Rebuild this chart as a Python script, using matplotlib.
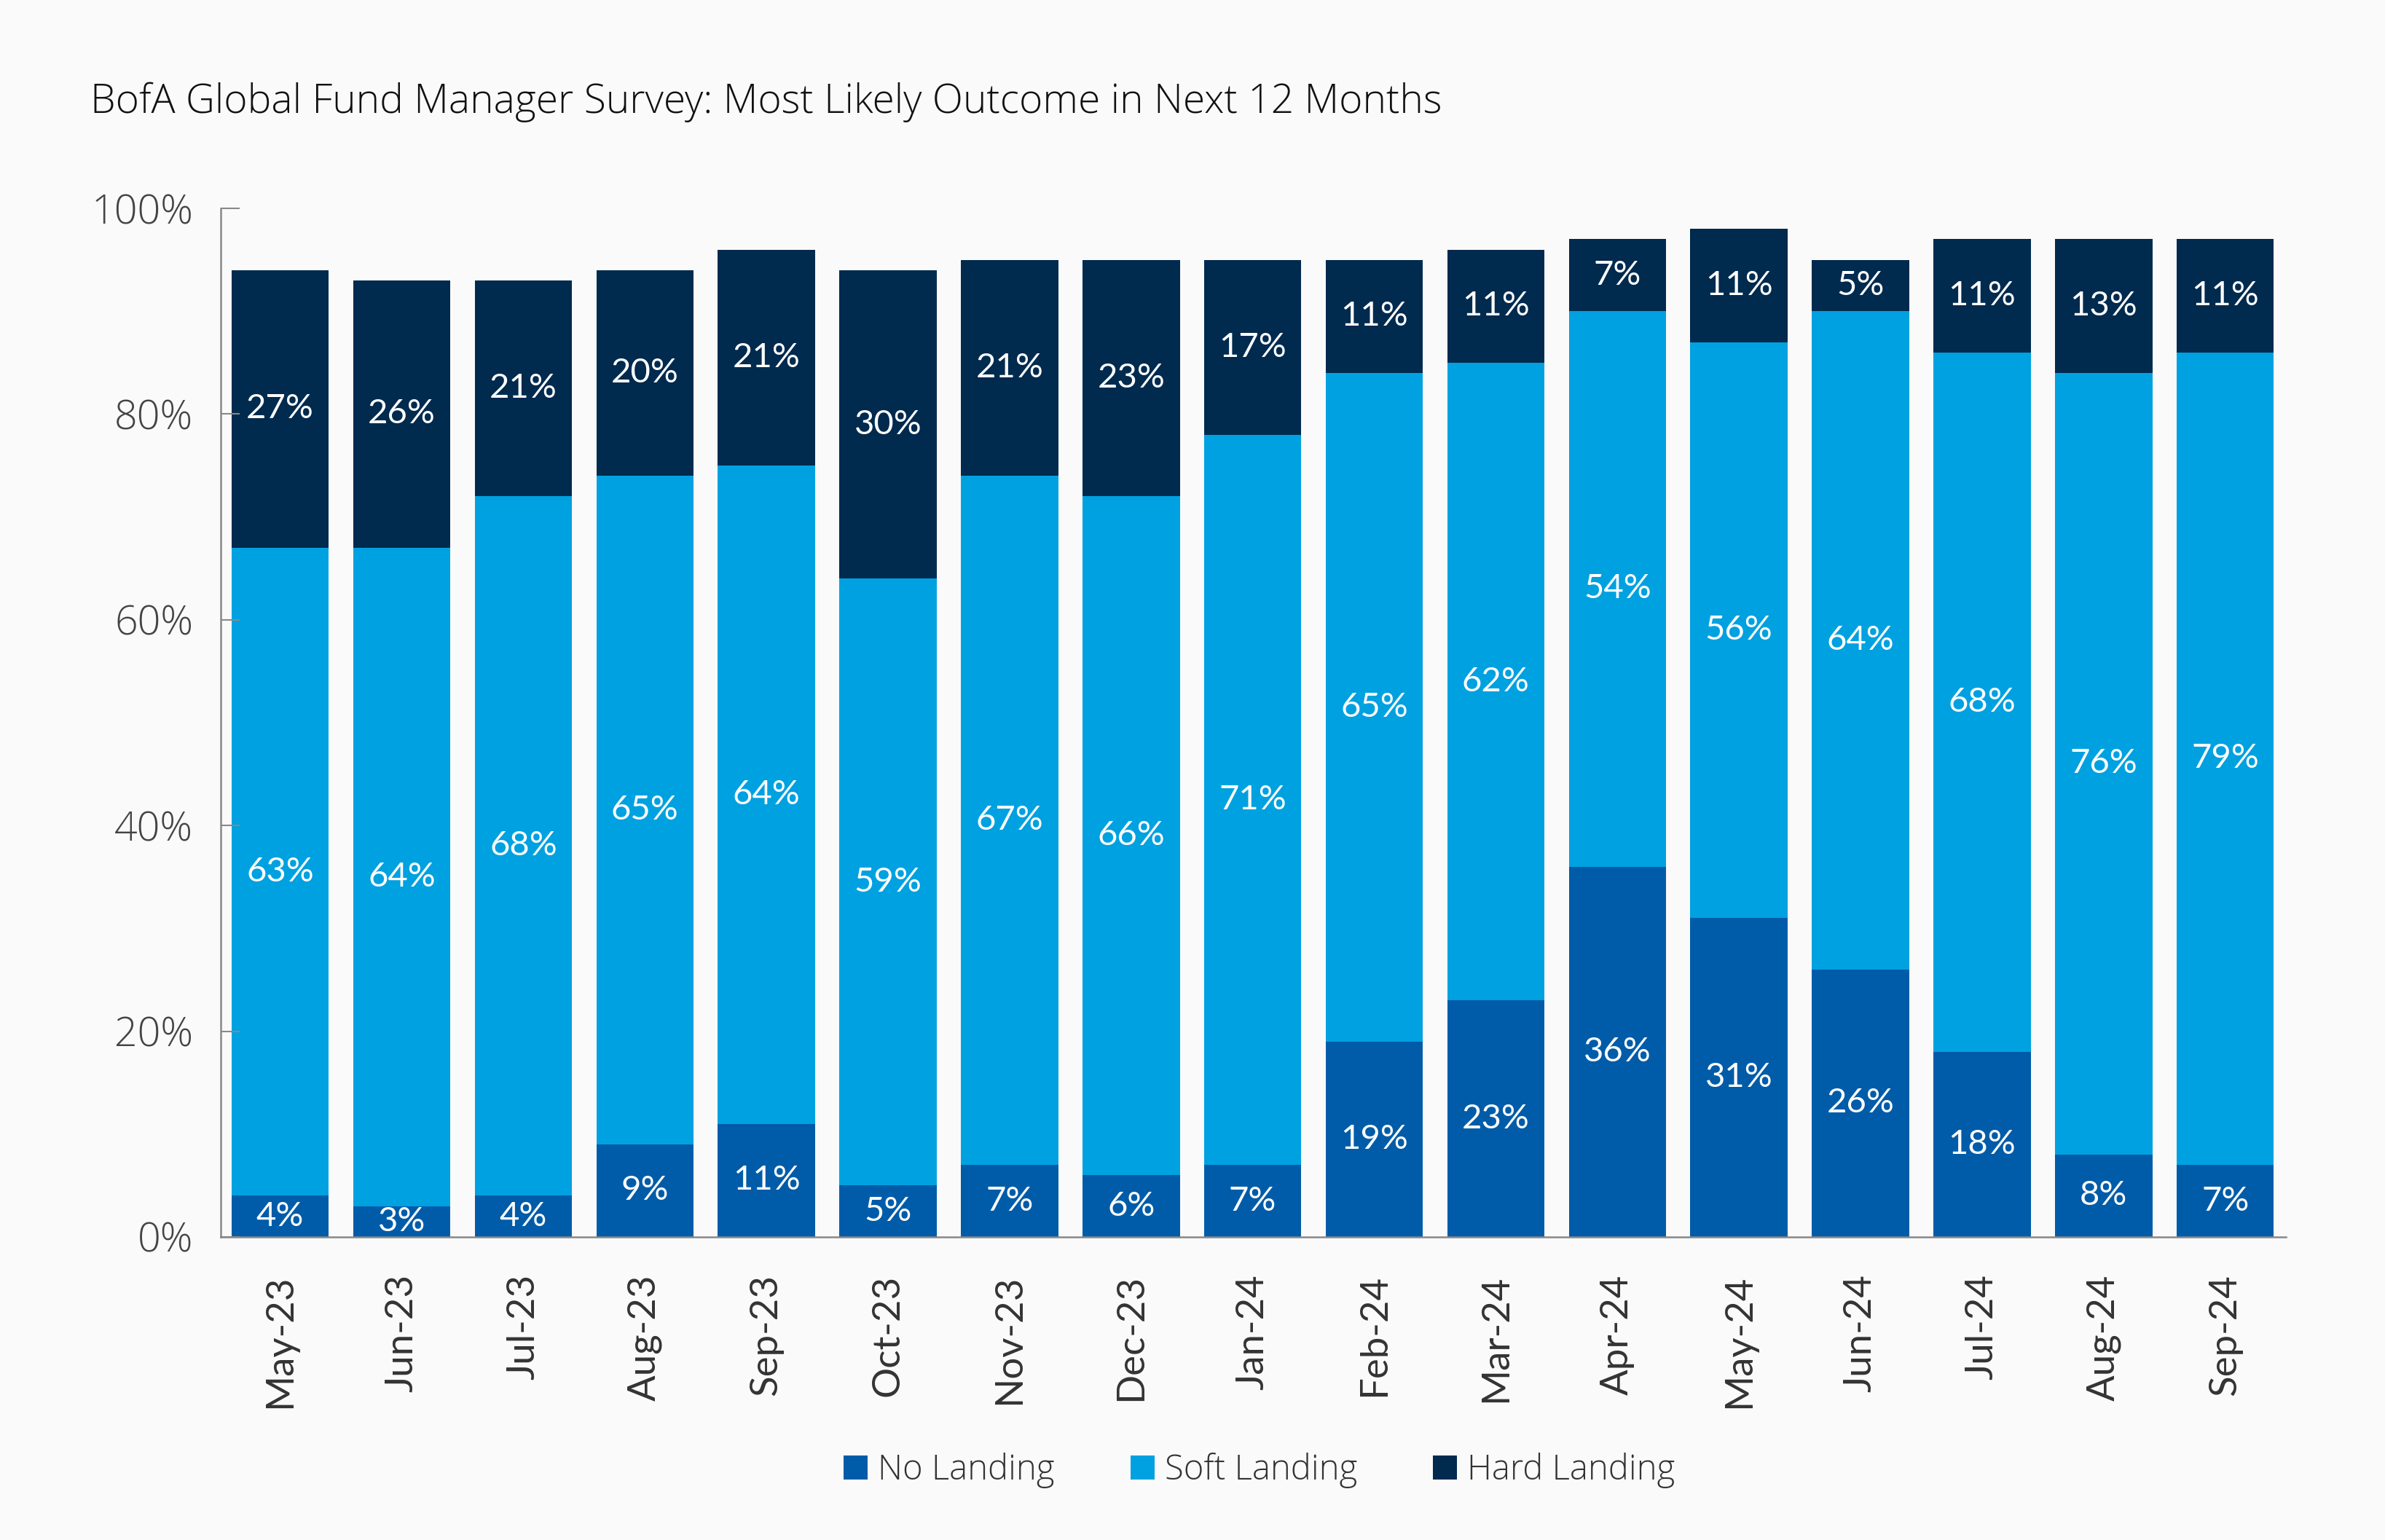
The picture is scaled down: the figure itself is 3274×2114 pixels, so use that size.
import numpy as np
import matplotlib
matplotlib.use("Agg")
import matplotlib.pyplot as plt
from matplotlib.patches import Patch

# --- data ---
months = ["May-23", "Jun-23", "Jul-23", "Aug-23", "Sep-23", "Oct-23", "Nov-23",
          "Dec-23", "Jan-24", "Feb-24", "Mar-24", "Apr-24", "May-24", "Jun-24",
          "Jul-24", "Aug-24", "Sep-24"]
no_landing = [4, 3, 4, 9, 11, 5, 7, 6, 7, 19, 23, 36, 31, 26, 18, 8, 7]
soft_landing = [63, 64, 68, 65, 64, 59, 67, 66, 71, 65, 62, 54, 56, 64, 68, 76, 79]
hard_landing = [27, 26, 21, 20, 21, 30, 21, 23, 17, 11, 11, 7, 11, 5, 11, 13, 11]

series = ["No Landing", "Soft Landing", "Hard Landing"]
colors = ["#005CA8", "#00A1E0", "#002A4E"]

BG = "#FAFAFA"
TEXT = "#333333"
THIN = "Open Sans"
ROUND = "Lato"

fig = plt.figure(figsize=(32.74, 21.14), dpi=100, facecolor=BG)
ax = fig.add_axes([0.0925, 0.1968, 0.866, 0.6679], facecolor=BG)

x = np.arange(len(months))
bottom = np.zeros(len(months))
for name, vals, col in zip(series, [no_landing, soft_landing, hard_landing], colors):
    vals = np.array(vals, dtype=float)
    ax.bar(x, vals, width=0.8, bottom=bottom, color=col, edgecolor="none", label=name)
    for xi, b, v in zip(x, bottom, vals):
        ax.text(xi, b + v / 2, f"{int(v)}%", ha="center", va="center",
                color="white", fontsize=34, family=ROUND)
    bottom += vals

ax.set_xlim(-0.49, 16.5)
ax.set_ylim(0, 100)
ax.set_yticks(range(0, 101, 20))
ax.set_yticklabels([f"{v}%" for v in range(0, 101, 20)], family=THIN,
                   fontweight="light", fontsize=40, color="#444444")
ax.set_xticks(x)
ax.set_xticklabels(months, rotation=90, family=ROUND, fontsize=38, color=TEXT)

ax.tick_params(axis="y", direction="in", length=19, width=1.5, color="#888888", pad=27)
ax.tick_params(axis="x", length=0, pad=37)

for side in ["top", "right"]:
    ax.spines[side].set_visible(False)
for side in ["left", "bottom"]:
    ax.spines[side].set_color("#888888")
    ax.spines[side].set_linewidth(1.8)

fig.text(0.038, 0.9267, "BofA Global Fund Manager Survey: Most Likely Outcome in Next 12 Months",
         family=THIN, fontweight="light", fontsize=39.7, color="#111111", va="baseline")

handles = [Patch(facecolor=c, edgecolor="none", label=s) for s, c in zip(series, colors)]
leg = fig.legend(handles=handles, loc="center", bbox_to_anchor=(0.528, 0.045), ncol=3,
                 frameon=False, handlelength=0.7, handleheight=0.7, handletextpad=0.3,
                 columnspacing=2.2, prop={"family": THIN, "weight": "light", "size": 34})
for t in leg.get_texts():
    t.set_color(TEXT)

fig.savefig("out.png", dpi=100, facecolor=BG)
